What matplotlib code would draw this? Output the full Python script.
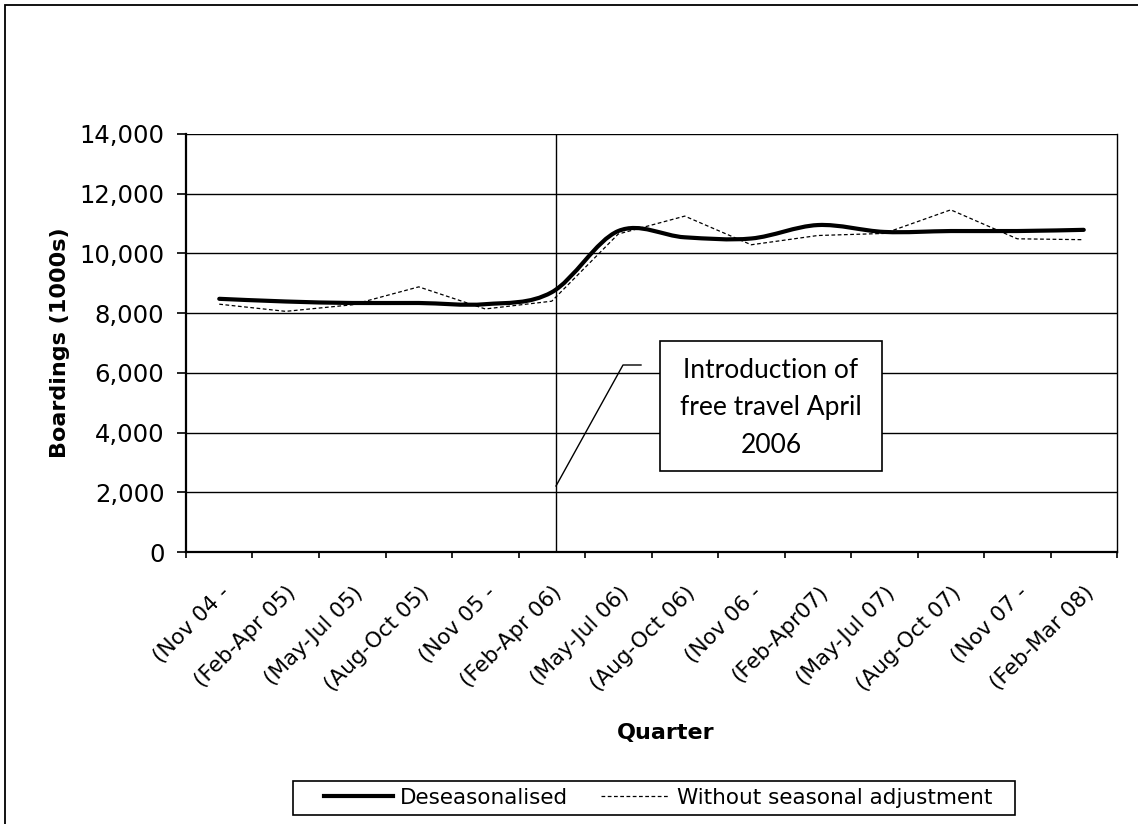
import matplotlib
matplotlib.use('Agg')
import matplotlib.pyplot as plt
from matplotlib.path import Path
from matplotlib.patches import PathPatch, Rectangle
from matplotlib.lines import Line2D
from matplotlib.ticker import FuncFormatter, FixedLocator
import numpy as np

quarters = ['(Nov 04 -', '(Feb-Apr 05)', '(May-Jul 05)', '(Aug-Oct 05)', '(Nov 05 -',
            '(Feb-Apr 06)', '(May-Jul 06)', '(Aug-Oct 06)', '(Nov 06 -', '(Feb-Apr07)',
            '(May-Jul 07)', '(Aug-Oct 07)', '(Nov 07 -', '(Feb-Mar 08)']
deseasonalised = [8480, 8390, 8340, 8340, 8300, 8700, 10750, 10540, 10500, 10950,
                  10720, 10750, 10750, 10790]
without_adj = [8300, 8060, 8280, 8880, 8140, 8400, 10650, 11250, 10290, 10600,
               10670, 11460, 10490, 10460]
free_travel_x = 5.06  # April 2006 marker, in category units

W, H = 1138, 824
fig = plt.figure(figsize=(W / 100, H / 100), dpi=100)
ax = fig.add_axes([186 / W, 1 - 552 / H, (1117 - 186) / W, (552 - 134) / H])

x = np.arange(len(quarters))

# smooth line like Excel: catmull-rom segments as cubic beziers
pts = np.column_stack([x, deseasonalised]).astype(float)
verts = [pts[0]]
codes = [Path.MOVETO]
n = len(pts)
for i in range(n - 1):
    p0 = pts[max(i - 1, 0)]
    p1 = pts[i]
    p2 = pts[i + 1]
    p3 = pts[min(i + 2, n - 1)]
    verts += [p1 + (p2 - p0) / 6, p2 - (p3 - p1) / 6, p2]
    codes += [Path.CURVE4] * 3
ax.add_patch(PathPatch(Path(verts, codes), facecolor='none', edgecolor='black',
                       lw=3.0, capstyle='round', zorder=4))

ax.plot(x, without_adj, color='black', lw=0.9, linestyle=(0, (3, 2)), zorder=3)

ax.set_xlim(-0.5, len(quarters) - 0.5)
ax.set_ylim(0, 14000)
ax.set_yticks(range(0, 14001, 2000))
ax.yaxis.set_major_formatter(FuncFormatter(lambda v, p: f'{int(v):,}'))
ax.grid(axis='y', color='black', lw=1.0)
ax.set_axisbelow(True)

ax.set_xticks(x)
ax.set_xticklabels(quarters, rotation=45, ha='right', rotation_mode='anchor')
ax.xaxis.set_minor_locator(FixedLocator(np.arange(-0.5, len(quarters), 1)))
ax.tick_params(axis='x', which='major', length=0, pad=22, labelsize=15.5)
ax.tick_params(axis='x', which='minor', length=4.5, width=1.2)
ax.tick_params(axis='y', length=6.5, width=1.2, labelsize=17.5, pad=9)

for s in ['left', 'bottom']:
    ax.spines[s].set_linewidth(1.6)
ax.spines['top'].set_visible(False)
ax.spines['right'].set_linewidth(1.0)

ax.axvline(free_travel_x, color='black', lw=1.0, zorder=2)

ax.set_ylabel('Boardings (1000s)', fontsize=16, fontweight='bold', labelpad=7)
fig.text(666 / W, 1 - 733 / H, 'Quarter', fontsize=16, fontweight='bold',
         ha='center', va='center')

# callout
fig.add_artist(Line2D([556 / W, 623 / W, 641 / W], [1 - 486 / H, 1 - 365 / H, 1 - 365 / H],
                      color='black', lw=1.0))
fig.add_artist(Rectangle((660 / W, 1 - 471 / H), 222 / W, 130 / H, facecolor='white',
                         edgecolor='black', lw=1.2, zorder=5))
fig.text(771 / W, 1 - 408 / H, 'Introduction of\nfree travel April\n2006', family='Lato',
         fontsize=19, ha='center', va='center', linespacing=1.62, zorder=6)

handles = [Line2D([], [], color='black', lw=3.0),
           Line2D([], [], color='black', lw=0.9, linestyle=(0, (3, 2)))]
leg = fig.legend(handles, ['Deseasonalised', 'Without seasonal adjustment'],
                 loc='center', bbox_to_anchor=(658 / W, 1 - 798 / H), ncol=2,
                 fontsize=15.5, frameon=False, handlelength=3.2,
                 columnspacing=1.5, handletextpad=0.35, borderpad=0.35)
fig.add_artist(Rectangle((293 / W, 1 - 815 / H), (1015 - 293) / W, 34 / H, fill=False,
                         edgecolor='black', lw=1.2))

# outer chart border
fig.add_artist(Rectangle((5 / W, -0.1), 1.2, 1 - 5 / H + 0.1, fill=False,
                         edgecolor='black', lw=1.3))

fig.savefig('out.png', dpi=100)
